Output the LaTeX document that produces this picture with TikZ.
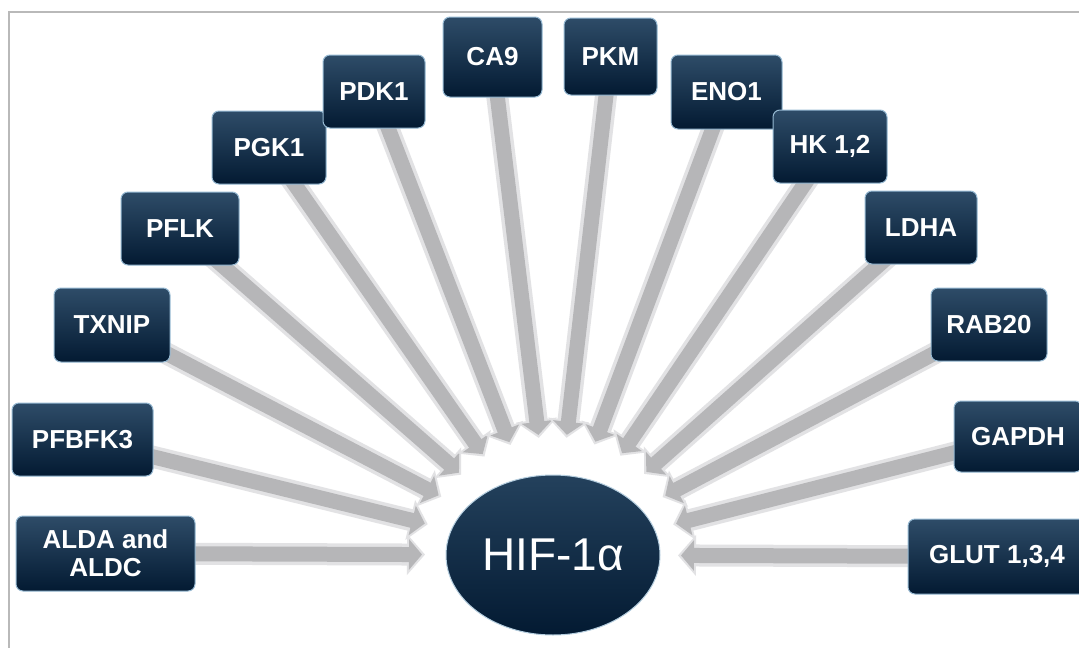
\documentclass[tikz,border=0pt]{standalone}
\usepackage{fontspec}
\setmainfont{Liberation Sans}
\usetikzlibrary{shapes.geometric,arrows.meta,calc,backgrounds}

\definecolor{boxtop}{RGB}{46,76,104}
\definecolor{boxmid}{RGB}{12,40,66}
\definecolor{boxbot}{RGB}{3,26,50}
\definecolor{boxrim}{RGB}{150,185,210}
\definecolor{arrowlight}{RGB}{226,226,228}
\definecolor{arrowgray}{RGB}{182,182,184}

\pgfdeclarelayer{paper}
\pgfsetlayers{paper,background,main}

\tikzset{
  genebox/.style={rectangle, rounded corners=7pt, top color=boxtop, middle color=boxmid,
    bottom color=boxbot, draw=boxrim, line width=1pt, text=white, inner sep=0pt,
    minimum height=73pt, align=center, font=\bfseries\fontsize{26}{28}\selectfont},
  hifnode/.style={ellipse, inner sep=0pt, minimum width=214pt, minimum height=160pt,
    top color=boxtop!70!boxmid, bottom color=boxbot, draw=boxrim!70, line width=1pt,
    text=white, font=\fontsize{46}{50}\selectfont},
  arrowrim/.style={line width=22pt, draw=arrowlight, -{Triangle[width=40pt,length=18pt]}},
  arrowcore/.style={line width=15pt, draw=arrowgray, -{Triangle[width=30pt,length=13pt]}, shorten >=3pt}
}

\begin{document}
\begin{tikzpicture}[x=1pt,y=-1pt]
\clip (0,0) rectangle (1079,648);
\begin{pgfonlayer}{paper}
\fill[white] (0,0) rectangle (1079,648);
\end{pgfonlayer}
\draw[gray!55, line width=1.5pt] (1079,12) -- (9,12) -- (9,648);

\node[hifnode] (hif) at (553,555) {HIF-1α};

\node[genebox, minimum width=179pt, minimum height=75pt] (alda) at (105.5,553.5) {ALDA and\\ALDC};
\node[genebox, minimum width=141pt] (pfbfk) at (82.5,439.5) {PFBFK3};
\node[genebox, minimum width=116pt, minimum height=74pt] (txnip) at (112,325) {TXNIP};
\node[genebox, minimum width=118pt] (pflk) at (180,228.5) {PFLK};
\node[genebox, minimum width=114pt] (pgk) at (269,147.5) {PGK1};
\node[genebox, minimum width=102pt] (pdk) at (374,91.5) {PDK1};
\node[genebox, minimum width=99pt, minimum height=80pt] (ca) at (492.5,57) {CA9};
\node[genebox, minimum width=93pt, minimum height=77pt] (pkm) at (610.5,56.5) {PKM};
\node[genebox, minimum width=111pt, minimum height=74pt] (eno) at (726.5,92) {ENO1};
\node[genebox, minimum width=114pt] (hk) at (830,146.5) {HK 1,2};
\node[genebox, minimum width=112pt] (ldha) at (921,227.5) {LDHA};
\node[genebox, minimum width=116pt] (rab) at (989,324.5) {RAB20};
\node[genebox, minimum width=128pt, minimum height=71pt] (gapdh) at (1018,436.5) {GAPDH};
\node[genebox, minimum width=178pt, minimum height=75pt] (glut) at (997,556.5) {GLUT 1,3,4};

\begin{scope}[on background layer]
\foreach \g/\r in {alda/128,pfbfk/129,txnip/126,pflk/122,pgk/120,pdk/118,ca/118,
                   pkm/118,eno/118,hk/120,ldha/122,rab/124,gapdh/124,glut/125}{
  \draw[arrowrim] (\g.center) -- ($(hif.center)!\r pt!(\g.center)$);
  \draw[arrowcore] (\g.center) -- ($(hif.center)!\r pt!(\g.center)$);
}
\end{scope}
\end{tikzpicture}
\end{document}
